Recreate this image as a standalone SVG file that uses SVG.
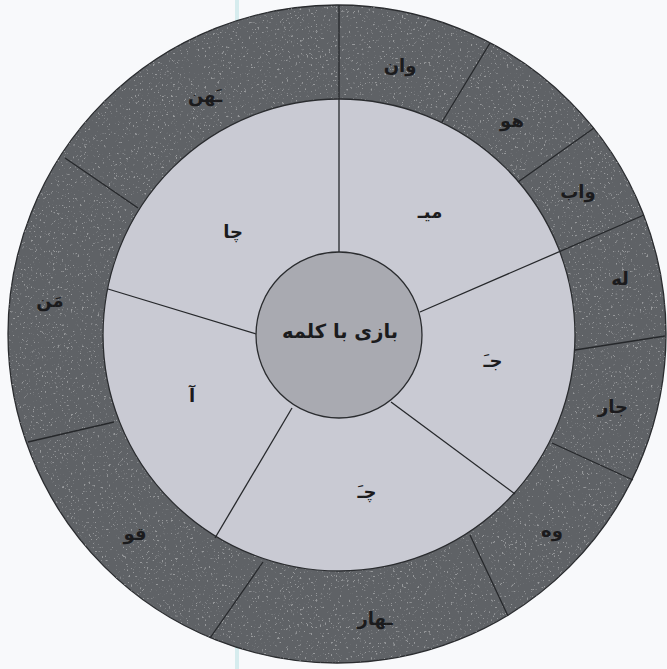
<svg xmlns="http://www.w3.org/2000/svg" width="667" height="669" viewBox="0 0 667 669">
<defs>
<style>
.lbl{font-family:"DejaVu Sans","Noto Sans",sans-serif;font-size:18px;font-weight:bold;fill:#1b1b1d;text-anchor:middle;dominant-baseline:central}
.ctr{font-size:19.5px}
.div{stroke:#26282b;stroke-width:1.3;fill:none}
</style>
<filter id="speck" x="0" y="0" width="100%" height="100%">
<feTurbulence type="fractalNoise" baseFrequency="0.45" numOctaves="3" seed="7" result="n"/>
<feColorMatrix in="n" type="matrix" values="0 0 0 0 1 0 0 0 0 1 0 0 0 0 1 9 0 0 0 -5.9" result="s"/>
<feComposite in="s" in2="SourceGraphic" operator="in"/>
</filter>
</defs>
<rect width="667" height="669" fill="#f8f9fb"/>
<rect x="235" y="0" width="4" height="669" fill="#bfe3e6" opacity="0.6"/>
<g id="outer-ring">
<circle cx="337" cy="334" r="329" fill="#5f6266" stroke="#2a2c2f" stroke-width="1.3"/>
<path d="M337,5a329,329 0 1,0 0.01,0Z M339,99a236,236 0 1,1 -0.01,0Z" fill="#ffffff" fill-rule="evenodd" filter="url(#speck)" opacity="0.35"/>
</g>
<g id="middle-ring">
<circle cx="339" cy="335" r="236" fill="#c9cad3" stroke="#2a2c2f" stroke-width="1.3"/>
</g>
<g id="dividers">
<line class="div" x1="339" y1="252" x2="339" y2="5"/>
<line class="div" x1="420" y1="312" x2="644" y2="215"/>
<line class="div" x1="391" y1="402" x2="515" y2="494"/>
<line class="div" x1="292" y1="408" x2="215" y2="538"/>
<line class="div" x1="256" y1="334" x2="108" y2="289"/>
<line class="div" x1="442" y1="122" x2="490" y2="43"/>
<line class="div" x1="518" y1="182" x2="594" y2="128"/>
<line class="div" x1="575" y1="350" x2="665" y2="336"/>
<line class="div" x1="552" y1="443" x2="633" y2="480"/>
<line class="div" x1="470" y1="535" x2="508" y2="616"/>
<line class="div" x1="263" y1="562" x2="210" y2="638"/>
<line class="div" x1="114" y1="422" x2="28" y2="442"/>
<line class="div" x1="138" y1="208" x2="65" y2="158"/>
</g>
<g id="center">
<circle cx="339" cy="335" r="83" fill="#a9aab1" stroke="#2a2c2f" stroke-width="1.3"/>
<text class="lbl ctr" x="340" y="331">بازی با کلمه</text>
</g>
<g id="seg-mi"><text class="lbl" x="430" y="211">میـ</text></g>
<g id="seg-ja"><text class="lbl" x="493" y="360">جـَ</text></g>
<g id="seg-cha"><text class="lbl" x="367" y="491">چـَ</text></g>
<g id="seg-aa"><text class="lbl" x="192" y="395">آ</text></g>
<g id="seg-chaa"><text class="lbl" x="233" y="231">چا</text></g>
<g id="out-van"><text class="lbl" x="400" y="65">وان</text></g>
<g id="out-hu"><text class="lbl" x="512" y="120">هو</text></g>
<g id="out-vab"><text class="lbl" x="578" y="191">واب</text></g>
<g id="out-le"><text class="lbl" x="620" y="278">له</text></g>
<g id="out-jar"><text class="lbl" x="613" y="406">جار</text></g>
<g id="out-veh"><text class="lbl" x="552" y="530">وه</text></g>
<g id="out-har"><text class="lbl" x="375" y="618">ـهار</text></g>
<g id="out-qu"><text class="lbl" x="135" y="533">قو</text></g>
<g id="out-man"><text class="lbl" x="50" y="300">مَن</text></g>
<g id="out-han"><text class="lbl" x="205" y="95">ـَهن</text></g>
</svg>
